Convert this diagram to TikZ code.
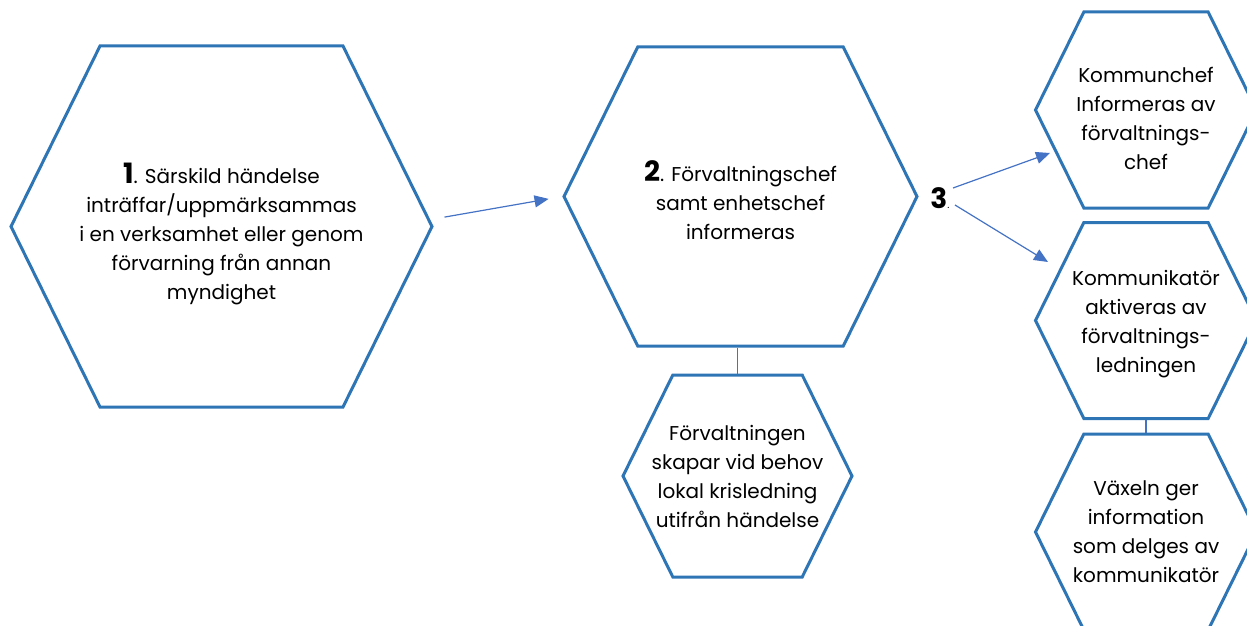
\documentclass[tikz,border=0pt]{standalone}
\usepackage{fontspec}
\setmainfont{Poppins}
\usetikzlibrary{shapes.symbols,arrows.meta,calc}
\definecolor{hexblue}{HTML}{2E75B6}
\definecolor{arrowblue}{HTML}{4472C4}
\tikzset{
    hexa/.style = {draw=hexblue, line width=3pt, shape=signal,
        signal to=east and west, signal pointer angle=127.5,
        inner sep=0pt},
    txt/.style = {align=center, inner sep=0pt,
        font=\fontsize{20}{29}\selectfont},
    arrow/.style = {draw=arrowblue, line width=1.2pt, -{Triangle[length=14pt,width=12pt]}},
    link/.style = {draw=arrowblue, line width=1.2pt}
}
\newcommand{\nr}[1]{{\fontsize{28}{28}\selectfont\bfseries #1}}

\begin{document}
\begin{tikzpicture}[x=1pt,y=-1pt]
    \useasboundingbox (0,0) rectangle (1247,626);
    \clip (0,0) rectangle (1247,626);
    % step 1 and 2
    \node[hexa, minimum width=421pt, minimum height=361pt,
        label={[txt,yshift=-7pt]center:\nr{1}. Särskild händelse\\inträffar/uppmärksammas\\i en verksamhet eller genom\\förvarning från annan\\myndighet}]
        (h1) at (221.5,226.5) {};
    \node[hexa, minimum width=353pt, minimum height=299pt,
        label={[txt,yshift=-4pt]center:\nr{2}. Förvaltningschef\\samt enhetschef\\informeras}]
        (h2) at (740.5,196.5) {};
    \node[hexa, minimum width=229pt, minimum height=202pt,
        label={[txt]center:Förvaltningen\\skapar vid behov\\lokal krisledning\\utifrån händelse}]
        (h4) at (737.5,476) {};
    % step 3
    \node (three) at (940,198) {\nr{3}.};
    \node[hexa, minimum width=221pt, minimum height=196pt,
        label={[txt,yshift=-8pt]center:Kommunchef\\Informeras av\\förvaltnings-\\chef}]
        (h3a) at (1146,110) {};
    \node[hexa, minimum width=221pt, minimum height=196pt,
        label={[txt,yshift=-4pt]center:Kommunikatör\\aktiveras av\\förvaltnings-\\ledningen}]
        (h3b) at (1146,320.5) {};
    \node[hexa, minimum width=221pt, minimum height=196pt,
        label={[txt]center:Växeln ger\\information\\som delges av\\kommunikatör}]
        (h3c) at (1146,532) {};
    \coordinate (in3a) at (1050,153);
    \coordinate (in3b) at (1048,262);
    % connectors
    \draw[arrow, shorten <=11pt, shorten >=14pt] ([yshift=7.5pt]h1.east) -- (h2.west);
    \draw[arrow] ([xshift=13pt,yshift=10pt]three.center) -- (in3a);
    \draw[arrow] ([xshift=15pt,yshift=-7pt]three.center) -- (in3b);
    \draw[link] (h4.north) -- (h4.north |- h2.south);
    \draw[link] (h3b.south) -- (h3c.north);
\end{tikzpicture}
\end{document}
